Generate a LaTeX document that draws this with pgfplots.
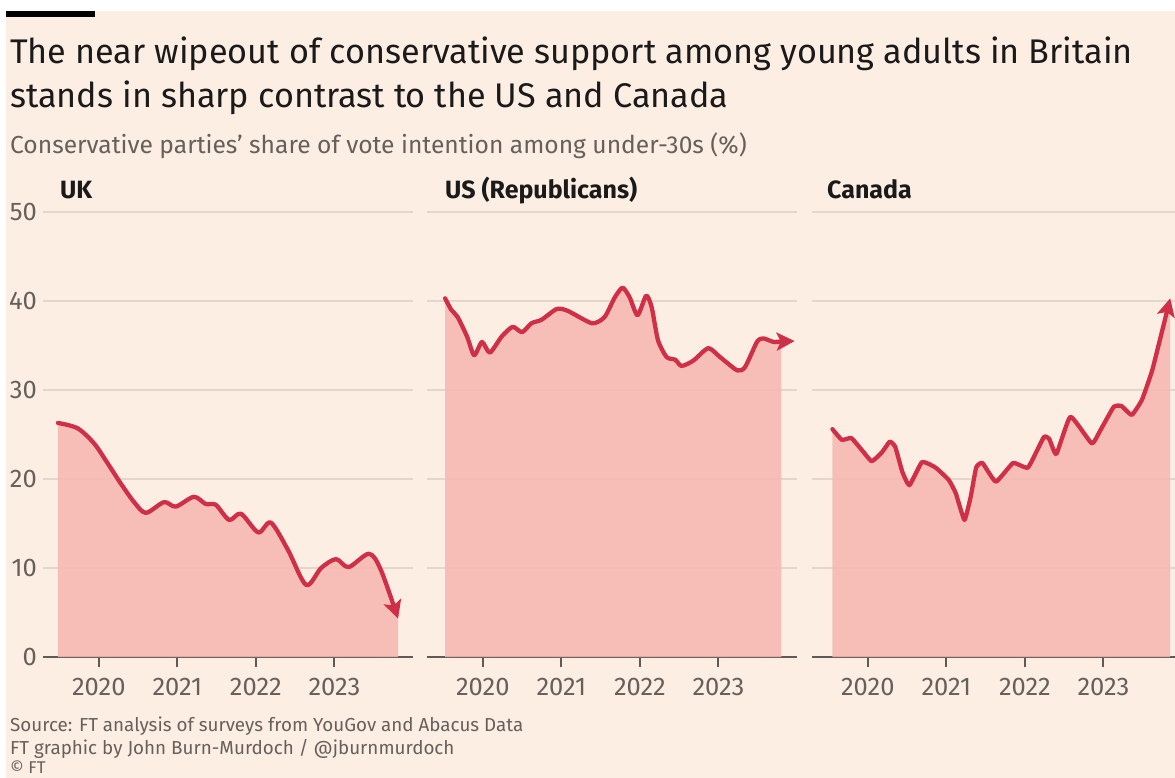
\documentclass[border=0pt]{standalone}
\usepackage{fontspec}
\setmainfont{Fira Sans}
\usepackage{pgfplots}
\usepackage{pgfplotstable}
\pgfplotsset{compat=1.18}
\usetikzlibrary{arrows.meta}
\definecolor{paper}{HTML}{FDEEE4}
\definecolor{ftline}{HTML}{CF3047}
\definecolor{ftfill}{HTML}{F7B6B0}
\definecolor{ftgrid}{HTML}{E3D6CB}
\definecolor{ftgray}{HTML}{66605C}
\definecolor{ftaxis}{HTML}{5F5A56}
\definecolor{fttitle}{HTML}{1A1A1A}
\newcommand\fs[1]{\fontsize{#1}{#1}\selectfont}

\pgfplotstableread{
x y
2019.48 26.3
2019.73 25.7
2019.94 24.0
2020.11 21.8
2020.28 19.5
2020.45 17.4
2020.60 16.2
2020.83 17.4
2020.98 16.9
2021.21 18.0
2021.36 17.2
2021.49 17.1
2021.66 15.4
2021.81 16.1
2022.03 14.0
2022.19 15.1
2022.41 12.0
2022.64 8.1
2022.83 10.0
2023.02 11.0
2023.18 10.1
2023.44 11.6
2023.59 9.8
2023.81 4.3
}\ukdata

\pgfplotstableread{
x y
2019.52 40.3
2019.60 39.0
2019.68 38.2
2019.80 36.0
2019.89 33.9
2019.99 35.4
2020.09 34.2
2020.24 36.0
2020.38 37.1
2020.50 36.5
2020.62 37.5
2020.75 37.9
2020.94 39.1
2021.08 38.9
2021.39 37.5
2021.55 38.2
2021.68 40.4
2021.78 41.5
2021.87 40.4
2021.97 38.4
2022.08 40.6
2022.15 39.3
2022.23 35.6
2022.34 33.7
2022.45 33.4
2022.53 32.7
2022.68 33.3
2022.87 34.7
2023.02 33.7
2023.24 32.2
2023.34 32.6
2023.49 35.4
2023.57 35.8
2023.70 35.4
2023.80 35.45
2023.97 35.5
}\usdata

\pgfplotstableread{
x y
2019.55 25.6
2019.67 24.4
2019.79 24.6
2019.92 23.3
2020.05 22.0
2020.18 23.0
2020.28 24.2
2020.35 23.6
2020.44 20.8
2020.53 19.3
2020.69 21.9
2020.86 21.3
2021.03 19.9
2021.12 18.4
2021.23 15.4
2021.31 18.0
2021.38 21.3
2021.46 21.8
2021.63 19.7
2021.85 21.8
2022.04 21.3
2022.24 24.7
2022.31 24.5
2022.40 22.8
2022.58 27.0
2022.85 24.0
2022.95 25.3
2023.13 28.1
2023.23 28.2
2023.36 27.2
2023.49 28.9
2023.62 32.2
2023.74 36.4
2023.85 40.3
}\cadata

\pgfplotsset{
 panel/.style={
  scale only axis, width=370pt, height=445pt,
  xmin=2019.29, xmax=2024.0, ymin=0, ymax=50,
  axis x line*=bottom, axis y line*=left,
  y axis line style={draw=none},
  x axis line style={draw=ftaxis, line width=2pt},
  xtick={2020,2021,2022,2023},
  xticklabels={2020,2021,2022,2023},
  ytick={0,10,20,30,40,50},
  yticklabels={},
  ymajorgrids, grid style={draw=ftgrid, line width=1.5pt},
  xtick style={draw=ftaxis, line width=2pt},
  ytick style={draw=none},
  tick align=outside, major tick length=10pt,
  xticklabel style={font=\fs{25.5}, text=ftgray, anchor=north, inner sep=0pt, yshift=-11pt},
  yticklabel style={font=\fs{25.5}, text=ftgray, anchor=east, inner sep=0pt},
  clip=false,
 },
 fillstyle/.style={draw=none, fill=ftfill, fill opacity=0.85},
 linestyle/.style={draw=ftline, line width=4.3pt, line cap=round, line join=round,
   -{Stealth[length=18pt,width=18pt,inset=4pt]}},
}

\begin{document}
\begin{tikzpicture}
\useasboundingbox (0pt,0pt) rectangle (1175pt,-778pt);
\fill[white] (0pt,0pt) rectangle (1175pt,-778pt);
\fill[paper] (6pt,-11pt) rectangle (1175pt,-778pt);
\fill[black] (6pt,-11pt) rectangle (95pt,-17pt);

\node[anchor=base west, inner sep=0pt, text=fttitle, font=\fs{34.2}] at (10pt,-64pt) {The near wipeout of conservative support among young adults in Britain};
\node[anchor=base west, inner sep=0pt, text=fttitle, font=\fs{34.2}] at (10pt,-108pt) {stands in sharp contrast to the US and Canada};
\node[anchor=base west, inner sep=0pt, text=ftgray, font=\fs{24.6}] at (10pt,-154pt) {Conservative parties’ share of vote intention among under-30s (\%)};

\node[anchor=base west, inner sep=0pt, text=fttitle, font=\fs{25}\bfseries] at (60pt,-199pt) {UK};
\node[anchor=base west, inner sep=0pt, text=fttitle, font=\fs{25}\bfseries] at (445pt,-199pt) {US (Republicans)};
\node[anchor=base west, inner sep=0pt, text=fttitle, font=\fs{25}\bfseries] at (827pt,-199pt) {Canada};

% UK
\begin{axis}[panel, at={(43pt,-657pt)}, anchor=south west,
  yticklabels={0,10,20,30,40,50}, yticklabel style={xshift=4pt}]
\addplot[fillstyle, smooth, tension=0.5] table {\ukdata} \closedcycle;
\addplot[linestyle, smooth, tension=0.5] table {\ukdata};
\end{axis}

% US
\begin{axis}[panel, at={(427pt,-657pt)}, anchor=south west]
\addplot[fillstyle, smooth, tension=0.4, restrict x to domain=2019:2023.81] table {\usdata} \closedcycle;
\addplot[linestyle, smooth, tension=0.4] table {\usdata};
\end{axis}

% Canada
\begin{axis}[panel, at={(812pt,-657pt)}, anchor=south west]
\addplot[fillstyle, smooth, tension=0.25] table {\cadata} \closedcycle;
\addplot[linestyle, smooth, tension=0.25] table {\cadata};
\end{axis}

\node[anchor=base west, inner sep=0pt, text=ftgray, font=\fs{18.8}] at (10pt,-731pt) {Source: FT analysis of surveys from YouGov and Abacus Data};
\node[anchor=base west, inner sep=0pt, text=ftgray, font=\fs{18.8}] at (10pt,-754pt) {FT graphic by John Burn-Murdoch / @jburnmurdoch};
\node[anchor=base west, inner sep=0pt, text=ftgray, font=\fs{17}] at (10pt,-773pt) {© FT};
\end{tikzpicture}
\end{document}
